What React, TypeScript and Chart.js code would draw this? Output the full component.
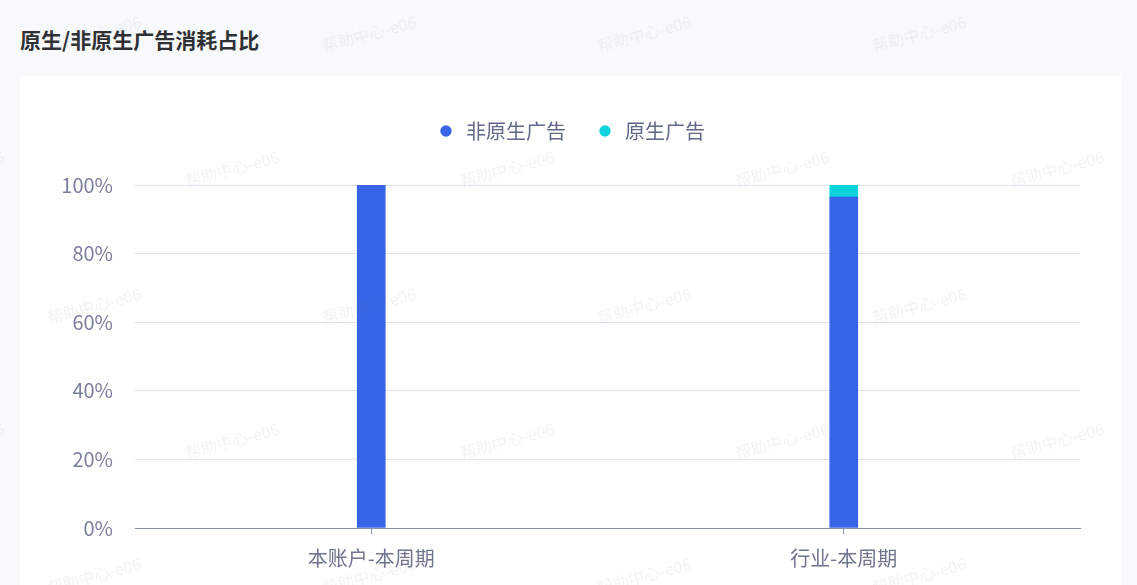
import React, { useEffect, useRef } from "react";
import { Chart, registerables } from "chart.js";

Chart.register(...registerables);

const title = "原生/非原生广告消耗占比";
const categories = ["本账户-本周期", "行业-本周期"];
const seriesNames = ["非原生广告", "原生广告"];
const nonNativeValues = [100, 96.5];
const nativeValues = [0, 3.5];
const yTicks = [0, 20, 40, 60, 80, 100];
const watermarkText = "帮助中心-e06";

const FONT = "'Noto Sans CJK SC', 'Noto Sans', sans-serif";

export default function App() {
  const canvasRef = useRef<HTMLCanvasElement | null>(null);

  useEffect(() => {
    if (!canvasRef.current) return;
    const legendMargin = {
      id: "legendMargin",
      beforeInit(chart: any) {
        const legend = chart.legend;
        if (!legend) return;
        const orig = legend.fit;
        legend.fit = function () {
          orig.bind(legend)();
          this.height += 34;
        };
      },
    };
    const chart = new Chart(canvasRef.current, {
      type: "bar",
      data: {
        labels: categories,
        datasets: [
          {
            label: seriesNames[0],
            data: nonNativeValues,
            backgroundColor: "#3865e8",
            barThickness: 28,
          },
          {
            label: seriesNames[1],
            data: nativeValues,
            backgroundColor: "#0fd3dc",
            barThickness: 28,
          },
        ],
      },
      options: {
        animation: false,
        responsive: false,
        maintainAspectRatio: false,
        layout: { padding: { left: 41, right: 41, top: 16, bottom: 3 } },
        plugins: {
          legend: {
            position: "top",
            align: "center",
            labels: {
              usePointStyle: true,
              pointStyle: "circle",
              boxWidth: 20,
              boxHeight: 8,
              padding: 29,
              color: "#626887",
              font: { family: FONT, size: 20 },
            },
          },
          tooltip: { enabled: false },
        },
        scales: {
          x: {
            stacked: true,
            grid: {
              offset: false,
              drawOnChartArea: false,
              drawTicks: true,
              tickLength: 6,
              color: "#8a8fa8",
            },
            border: { display: true, color: "#8a8fa8", width: 1 },
            ticks: {
              padding: 12,
              color: "#70758f",
              font: { family: FONT, size: 20 },
            },
          },
          y: {
            stacked: true,
            min: 0,
            max: 100,
            afterFit(scale: any) {
              scale.width = 74;
            },
            afterBuildTicks(scale: any) {
              scale.ticks = yTicks.map((v) => ({ value: v }));
            },
            grid: { color: "#dfe2ee", drawTicks: false, lineWidth: 1 },
            border: { display: false },
            ticks: {
              padding: 22,
              color: "#7a7f9b",
              font: { family: FONT, size: 20 },
              callback: (v: any) => v + "%",
            },
          },
        },
      },
      plugins: [legendMargin],
    });
    return () => chart.destroy();
  }, []);

  const marks: { x: number; y: number }[] = [];
  const rowYs = [33, 168, 305, 440, 575];
  rowYs.forEach((y, i) => {
    const start = i % 2 === 0 ? 94 : -43;
    for (let x = start; x < 1200; x += 275) marks.push({ x, y });
  });

  return (
    <div
      style={{
        position: "absolute",
        left: 0,
        top: 0,
        width: 1137,
        height: 585,
        overflow: "hidden",
        background: "#f8f9fb",
        fontFamily: FONT,
      }}
    >
      <div
        style={{
          position: "absolute",
          left: 20,
          top: 25,
          fontSize: 21,
          lineHeight: "28px",
          fontWeight: 700,
          color: "#2f3033",
        }}
      >
        {title}
      </div>
      <div
        style={{
          position: "absolute",
          left: 20,
          top: 76,
          width: 1101,
          height: 509,
          background: "#ffffff",
        }}
      >
        <canvas ref={canvasRef} width={1101} height={509} style={{ width: 1101, height: 509, display: "block" }} />
      </div>
      {marks.map((m, i) => (
        <div
          key={i}
          style={{
            position: "absolute",
            left: m.x - 60,
            top: m.y - 12,
            width: 120,
            height: 24,
            lineHeight: "24px",
            textAlign: "center",
            fontSize: 16,
            color: "rgba(110,120,145,0.09)",
            transform: "rotate(-15deg)",
            pointerEvents: "none",
            whiteSpace: "nowrap",
          }}
        >
          {watermarkText}
        </div>
      ))}
    </div>
  );
}
